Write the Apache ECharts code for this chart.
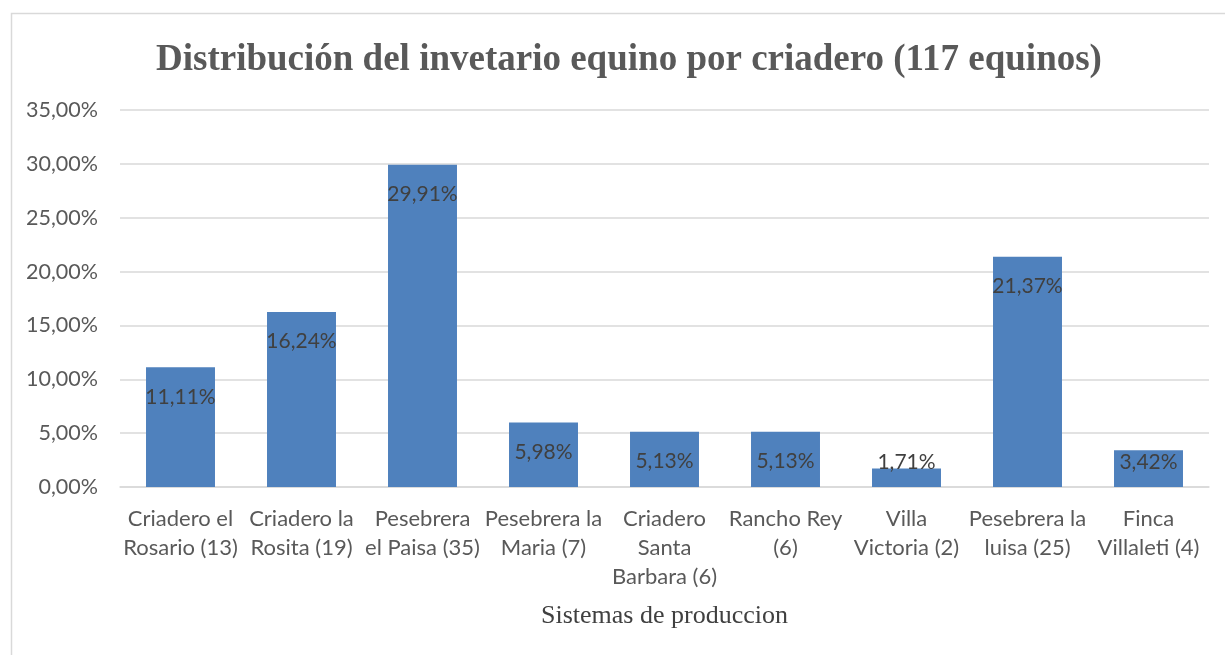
<!DOCTYPE html>
<html><head><meta charset="utf-8">
<script src="https://cdn.jsdelivr.net/npm/echarts@6/dist/echarts.min.js"></script>
<style>html,body{margin:0;padding:0;background:#fff;}#c{width:1225px;height:655px;}</style>
</head><body><div id="c"></div>
<script>
var categories = ["Criadero el\nRosario (13)", "Criadero la\nRosita (19)", "Pesebrera\nel Paisa (35)", "Pesebrera la\nMaria (7)", "Criadero\nSanta\nBarbara (6)", "Rancho Rey\n(6)", "Villa\nVictoria (2)", "Pesebrera la\nluisa (25)", "Finca\nVillaleti (4)"];
var percentages = [11.11, 16.24, 29.91, 5.98, 5.13, 5.13, 1.71, 21.37, 3.42];
var titleText = "Distribución del invetario equino por criadero (117 equinos)";
var xAxisName = "Sistemas de produccion";

function fmt(v){ return v.toFixed(2).replace('.', ',') + '%'; }

var barData = percentages.map(function(v){
  if (v < 5) {
    return {value:v, label:{position:'insideBottom', distance:14}};
  }
  return v;
});

var chart = echarts.init(document.getElementById('c'), null, {renderer:'canvas'});
chart.setOption({
  animation:false,
  backgroundColor:'#fff',
  graphic:[{type:'rect', left:9, top:11, shape:{width:1230, height:660}, style:{fill:'none', stroke:'#d9d9d9', lineWidth:1.5}, silent:true}],
  title:{text:titleText, left:151, top:37, textStyle:{fontFamily:'Liberation Serif', fontWeight:'bold', fontSize:37, color:'#595959'}},
  grid:{left:120, right:16, top:110, bottom:168, containLabel:false},
  xAxis:{type:'category', data:categories, name:xAxisName, nameLocation:'middle', nameGap:116,
    nameTextStyle:{fontFamily:'Liberation Serif', fontSize:26, color:'#404040'},
    axisLine:{lineStyle:{color:'#d9d9d9', width:1.5}}, axisTick:{show:false},
    axisLabel:{interval:0, margin:17, fontFamily:'Lato', fontSize:22, lineHeight:29, color:'#595959'}},
  yAxis:{type:'value', min:0, max:35, interval:5,
    axisLabel:{formatter:function(v){return fmt(v);}, margin:22, fontFamily:'Lato', fontSize:21.5, color:'#595959'},
    splitLine:{lineStyle:{color:'#d9d9d9', width:1.5}}, axisLine:{show:false}, axisTick:{show:false}},
  series:[{type:'bar', data:barData, barWidth:'57%',
    itemStyle:{color:'#4f81bd'},
    label:{show:true, position:'insideTop', distance:19, formatter:function(p){return fmt(p.value);}, fontFamily:'Lato', fontSize:21, color:'#404040'}}]
});
</script></body></html>
